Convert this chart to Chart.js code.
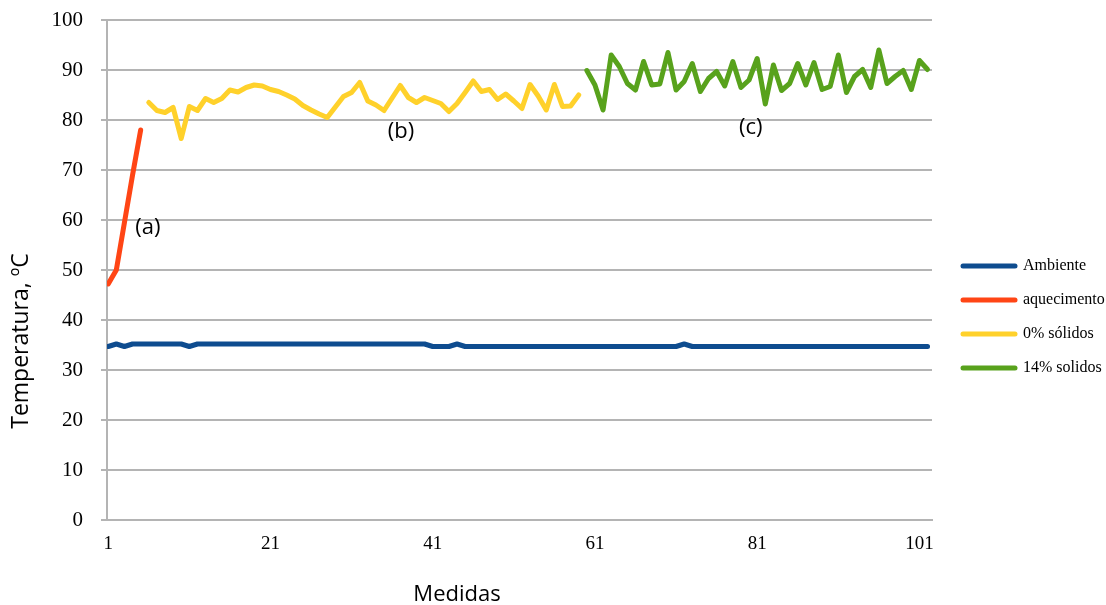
<!DOCTYPE html>
<html>
<head>
<meta charset="utf-8">
<script src="https://cdn.jsdelivr.net/npm/chart.js@4.4.0/dist/chart.umd.min.js"></script>
<style>
html,body{margin:0;padding:0;background:#fff;}
#wrap{width:1106px;height:605px;position:relative;}
</style>
</head>
<body>
<div id="wrap"><canvas id="c"></canvas></div>
<script>
// ---- data ----
const xTickLabels = [1, 21, 41, 61, 81, 101];
const seriesNames = ['Ambiente', 'aquecimento', '0% sólidos', '14% solidos'];
const xTitle = 'Medidas';
const yTitle = 'Temperatura, ºC';

const ambienteStart = 1;
const ambiente = [
  34.7, 35.2, 34.7, 35.2, 35.2, 35.2, 35.2, 35.2, 35.2, 35.2,
  34.7, 35.2, 35.2, 35.2, 35.2, 35.2, 35.2, 35.2, 35.2, 35.2,
  35.2, 35.2, 35.2, 35.2, 35.2, 35.2, 35.2, 35.2, 35.2, 35.2,
  35.2, 35.2, 35.2, 35.2, 35.2, 35.2, 35.2, 35.2, 35.2, 35.2,
  34.7, 34.7, 34.7, 35.2, 34.7, 34.7, 34.7, 34.7, 34.7, 34.7,
  34.7, 34.7, 34.7, 34.7, 34.7, 34.7, 34.7, 34.7, 34.7, 34.7,
  34.7, 34.7, 34.7, 34.7, 34.7, 34.7, 34.7, 34.7, 34.7, 34.7,
  34.7, 35.2, 34.7, 34.7, 34.7, 34.7, 34.7, 34.7, 34.7, 34.7,
  34.7, 34.7, 34.7, 34.7, 34.7, 34.7, 34.7, 34.7, 34.7, 34.7,
  34.7, 34.7, 34.7, 34.7, 34.7, 34.7, 34.7, 34.7, 34.7, 34.7,
  34.7, 34.7
];

const aquecimentoStart = 1;
const aquecimento = [47.2, 50, 59.5, 69, 78];

const solidos0Start = 6;
const solidos0 = [
  83.5, 81.9, 81.5, 82.5, 76.3, 82.7, 81.9, 84.3, 83.5, 84.3,
  86.0, 85.6, 86.5, 87.0, 86.8, 86.1, 85.7, 85.0, 84.2, 82.9,
  82.0, 81.2, 80.5, 82.6, 84.7, 85.5, 87.5, 83.8, 83.0, 81.9,
  84.4, 86.9, 84.5, 83.5, 84.5, 83.9, 83.3, 81.7, 83.3, 85.5,
  87.8, 85.7, 86.1, 84.1, 85.2, 83.8, 82.3, 87.1, 84.8, 82.0,
  87.1, 82.7, 82.8, 85.0
];

const solidos14Start = 60;
const solidos14 = [
  89.9, 87.0, 82.0, 93.0, 90.7, 87.3, 86.0, 91.7, 87.0, 87.2,
  93.5, 86.0, 87.7, 91.3, 85.7, 88.3, 89.7, 86.8, 91.7, 86.5,
  88.0, 92.3, 83.2, 91.0, 85.9, 87.3, 91.3, 87.0, 91.5, 86.1,
  86.7, 93.0, 85.5, 88.7, 90.1, 86.5, 94.0, 87.3, 88.7, 89.9,
  86.1, 91.9, 90.1
];

const annotations = [
  { text: '(a)', x: 5.9, y: 58.5 },
  { text: '(b)', x: 37.1, y: 77.7 },
  { text: '(c)', x: 80.2, y: 78.4 }
];

const colors = ['#0E4C8F', '#FF4515', '#FFD12B', '#58A21C'];

// ---- build ----
function toPoints(start, arr) {
  return arr.map((v, i) => ({ x: start + i, y: v }));
}

const seriesData = [
  toPoints(ambienteStart, ambiente),
  toPoints(aquecimentoStart, aquecimento),
  toPoints(solidos0Start, solidos0),
  toPoints(solidos14Start, solidos14)
];

const datasets = seriesNames.map((name, i) => ({
  label: name,
  data: seriesData[i],
  borderColor: colors[i],
  backgroundColor: colors[i],
  borderWidth: 5,
  pointRadius: 0,
  pointHoverRadius: 0,
  tension: 0,
  fill: false,
  borderCapStyle: 'round',
  borderJoinStyle: 'round',
  yAxisID: 'y'
}));

const textPlugin = {
  id: 'extraTexts',
  afterDraw(chart) {
    const { ctx, scales: { x, y } } = chart;
    ctx.save();
    ctx.fillStyle = '#000';
    ctx.textAlign = 'center';
    ctx.textBaseline = 'middle';
    ctx.font = '22px "Open Sans", "Liberation Sans", sans-serif';
    annotations.forEach(a => {
      ctx.fillText(a.text, x.getPixelForValue(a.x), y.getPixelForValue(a.y));
    });
    ctx.fillText(xTitle, 457, 595);
    ctx.translate(21, 341);
    ctx.rotate(-Math.PI / 2);
    ctx.font = '23px "Open Sans", "Liberation Sans", sans-serif';
    ctx.fillText(yTitle, 0, 0);
    ctx.restore();
  }
};

const serif = '"Liberation Serif", "Times New Roman", serif';
const gridGrey = '#b4b4b4';

new Chart(document.getElementById('c'), {
  type: 'line',
  data: { datasets },
  plugins: [textPlugin],
  options: {
    responsive: true,
    maintainAspectRatio: false,
    animation: false,
    devicePixelRatio: 1,
    layout: { padding: { top: 20, right: 0, bottom: 0, left: 0 } },
    plugins: {
      tooltip: { enabled: false },
      legend: {
        position: 'right',
        maxWidth: 161,
        title: { display: true, text: ' ', font: { size: 6 }, padding: 1 },
        labels: {
          usePointStyle: true,
          pointStyle: 'line',
          pointStyleWidth: 52,
          padding: 18,
          color: '#000',
          font: { family: serif, size: 16 },
          generateLabels(chart) {
            return chart.data.datasets.map((ds, i) => ({
              text: ds.label,
              fillStyle: ds.borderColor,
              strokeStyle: ds.borderColor,
              lineWidth: 5,
              lineCap: 'round',
              pointStyle: 'line',
              hidden: false,
              datasetIndex: i,
              fontColor: '#000'
            }));
          }
        }
      }
    },
    scales: {
      x: {
        type: 'linear',
        min: 0.85,
        max: 102.55,
        afterBuildTicks(scale) {
          scale.ticks = xTickLabels.map(v => ({ value: v }));
        },
        afterFit(scale) { scale.height = 85; },
        grid: { display: false, drawTicks: false },
        border: { display: true, color: gridGrey, width: 2 },
        ticks: {
          autoSkip: false,
          maxRotation: 0,
          padding: 13,
          color: '#000',
          font: { family: serif, size: 19 },
          callback: (v) => String(v)
        }
      },
      y: {
        type: 'linear',
        position: 'left',
        min: 0,
        max: 100,
        afterFit(scale) {
          scale.width = 107;
          scale.paddingTop = 12;
          scale.paddingBottom = 12;
        },
        grid: { color: gridGrey, lineWidth: 2, tickLength: 6, drawTicks: true },
        border: { display: true, color: gridGrey, width: 2 },
        ticks: {
          stepSize: 10,
          padding: 18,
          color: '#000',
          font: { family: serif, size: 21 }
        }
      },
      yr: {
        type: 'linear',
        position: 'right',
        display: true,
        afterFit(scale) { scale.width = 13; scale.paddingTop = 0; scale.paddingBottom = 0; },
        grid: { display: false, drawTicks: false },
        border: { display: false },
        ticks: { display: false }
      }
    }
  }
});
</script>
</body>
</html>
